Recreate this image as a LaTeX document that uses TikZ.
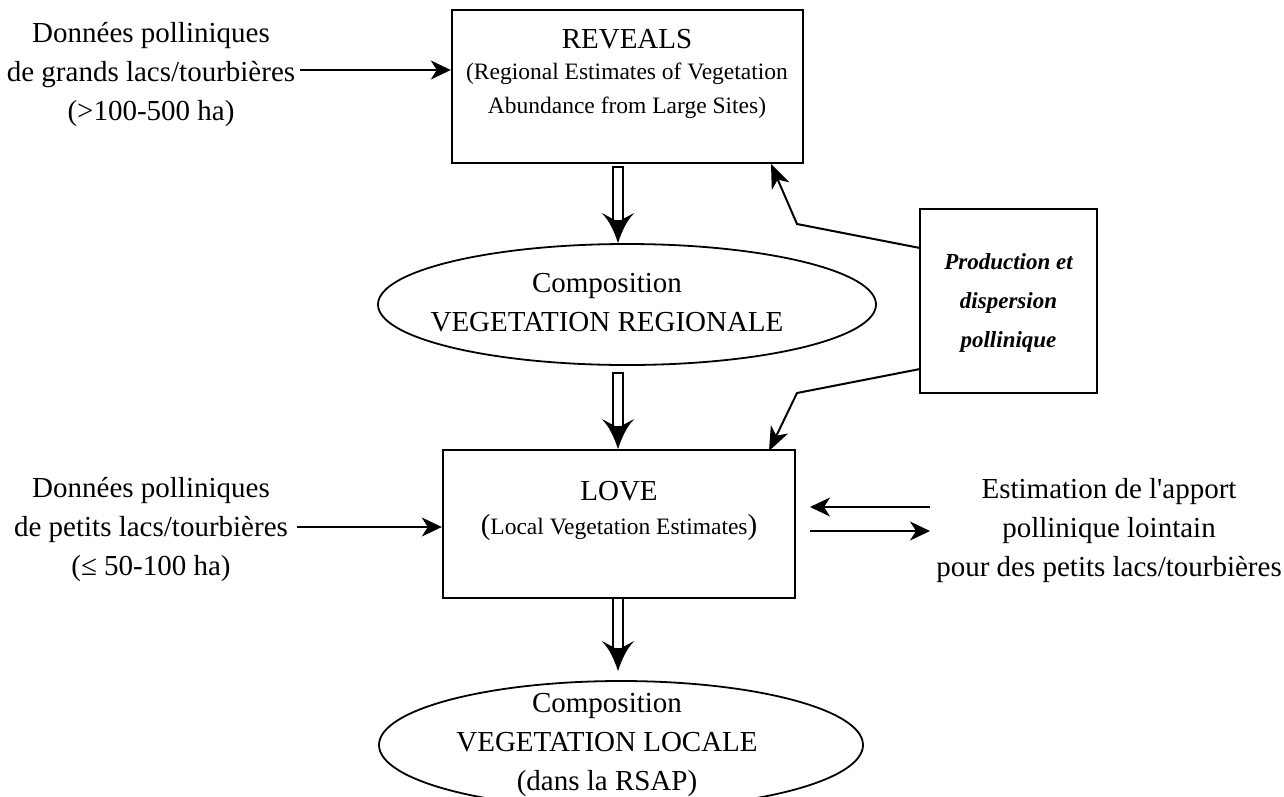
\documentclass[tikz,border=0pt]{standalone}
\usepackage{fontspec}
\setmainfont{Liberation Serif}[Ligatures=TeXOff]
\usetikzlibrary{shapes.geometric,arrows.meta}
\begin{document}
\begin{tikzpicture}[x=1pt,y=-1pt,
  bigtxt/.style={font=\fontsize{29}{39}\selectfont, align=center, inner sep=0pt},
  smalltxt/.style={font=\fontsize{23.5}{34}\selectfont, align=center, inner sep=0pt},
  boldtxt/.style={font=\fontsize{23}{39}\selectfont\bfseries\itshape, align=center, inner sep=0pt},
  boxnode/.style={draw, line width=2.4pt, rectangle, inner sep=0pt},
  ellnode/.style={draw, line width=1.8pt, ellipse, inner sep=0pt},
  thinarrow/.style={line width=1.2pt, -{Stealth[length=20pt, width=19pt, inset=6pt]}},
  polyarrow/.style={line width=2pt, -{Stealth[length=24pt, width=19pt, inset=7pt]}},
  hshaft/.style={draw, fill=white, line width=1.6pt},
  hhead/.style={fill=black, draw=black, line width=0.6pt, line join=miter}
]
\useasboundingbox (0,0) rectangle (1284,796);

% boxes
\node[boxnode, minimum width=351pt, minimum height=153pt] (reveals) at (627.5,86.5) {};
\node[boxnode, minimum width=352pt, minimum height=148pt] (love) at (619,524) {};
\node[boxnode, minimum width=177pt, minimum height=184pt] (prod) at (1008.5,301) {};

% ellipses
\node[ellnode, minimum width=498pt, minimum height=121pt] (ell1) at (627,304.5) {};
\node[ellnode, minimum width=484pt, minimum height=128pt] (ell2) at (621,745) {};

% texts
\node[bigtxt] (revT1) at (627,39) {REVEALS};
\node[smalltxt] (revT2) at (627,91) {(Regional Estimates of Vegetation\\Abundance from Large Sites)};
\node[bigtxt] (loveT1) at (619,491) {LOVE};
\node[bigtxt] (loveT2) at (619,528) {(\fontsize{23.5}{34}\selectfont Local Vegetation Estimates\fontsize{29}{39}\selectfont)};
\node[boldtxt] (prodT) at (1008.5,303) {Production et\\dispersion\\pollinique};
\node[bigtxt] (ell1T) at (607,303) {Composition\\VEGETATION REGIONALE};
\node[bigtxt] (ell2T) at (607,745) {Composition\\VEGETATION LOCALE\\(dans la RSAP)};
\node[bigtxt] (leftA) at (151,74) {Données polliniques\\de grands lacs/tourbières\\(>100-500 ha)};
\node[bigtxt] (leftB) at (151,529) {Données polliniques\\de petits lacs/tourbières\\(≤ 50-100 ha)};
\node[bigtxt] (rightT) at (1109,531) {Estimation de l'apport\\pollinique lointain\\pour des petits lacs/tourbières};

% thin arrows
\coordinate (a1s) at (300,70);
\draw[thinarrow] (a1s) -- (a1s -| reveals.west);
\coordinate (a2s) at (297,527);
\draw[thinarrow] (a2s) -- (a2s -| love.west);
\coordinate (r1s) at (930,507);
\coordinate (r1e) at (810,507);
\draw[thinarrow] (r1s) -- (r1e);
\coordinate (r2s) at (810,531);
\coordinate (r2e) at (930,531);
\draw[thinarrow] (r2s) -- (r2e);

% polyline connectors
\coordinate (p1) at (920,248);
\coordinate (b1) at (797,224);
\coordinate (t1) at (771,164);
\draw[polyarrow, line join=miter] (p1) -- (b1) -- (t1);
\coordinate (p2) at (920,369);
\coordinate (b2) at (797,393);
\coordinate (t2) at (769,451);
\draw[polyarrow, line join=miter] (p2) -- (b2) -- (t2);

% hollow arrows
\foreach \yt/\yp in {167/242, 373/448, 598/670}{
  \draw[hshaft] (613,\yt) rectangle (623,\yp-21);
  \filldraw[hhead] (618,\yp) .. controls (614,\yp-12) and (609,\yp-22) .. (603,\yp-28)
     -- (618,\yp-20) -- (633,\yp-28) .. controls (627,\yp-22) and (622,\yp-12) .. (618,\yp) -- cycle;
}
\end{tikzpicture}
\end{document}
